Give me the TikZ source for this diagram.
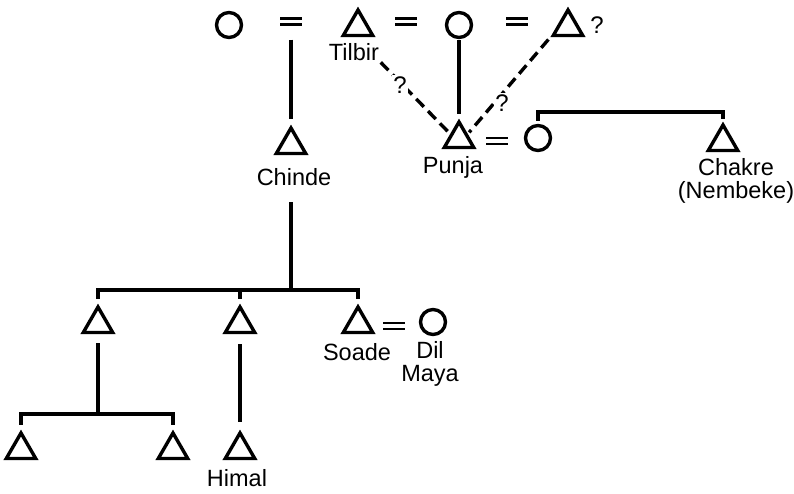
\documentclass[tikz,border=0pt]{standalone}
\usepackage{fontspec}
\setmainfont{Liberation Sans}
\usetikzlibrary{shapes.geometric}
\begin{document}
\begin{tikzpicture}[x=1pt,y=-1pt,
  line width=3.4pt,
  tri/.style={draw, regular polygon, regular polygon sides=3, minimum size=34pt, inner sep=0pt},
  fem/.style={draw, circle, minimum size=25pt, inner sep=0pt},
  marr/.style={minimum width=22pt, minimum height=6pt, inner sep=0pt, outer sep=0pt},
  lbl/.style={font=\fontsize{23.5}{23}\selectfont, inner sep=0pt, align=center},
  qm/.style={font=\fontsize{24}{24}\selectfont, inner sep=1.5pt, fill=white},
  maybe/.style={dash pattern=on 11pt off 6pt}
]
\useasboundingbox (0,0) rectangle (794,493);

% top generation: a woman with three successive husbands
\node[fem]  (c1) at (229,25) {};
\node[marr] (e1) at (291,21.5) {};
\node[tri]  (t1) at (358,27) {};
\node[marr] (e2) at (406,21.5) {};
\node[fem]  (c2) at (459,25) {};
\node[marr] (e3) at (517,21.5) {};
\node[tri]  (t2) at (568,27) {};
\node[qm, fill=none] (q0) at (597,25) {?};
\node[lbl]  (tilbirL) at (354,52) {Tilbir};

% second generation
\node[tri]  (tCh) at (291,145) {};
\node[lbl]  (chindeL) at (294,177) {Chinde};
\node[tri]  (tP) at (459,139) {};
\node[lbl]  (punjaL) at (453,167) {Punja};
\node[marr] (e4) at (497,141) {};
\node[fem]  (cW) at (538,138) {};
\node[tri]  (tC) at (723,142) {};
\node[lbl]  (chakreL) at (736,181) {Chakre\\(Nembeke)};
\coordinate (k) at (630,112);

% Chinde's sons
\coordinate (j1) at (291,290);
\node[tri]  (tA) at (98,324) {};
\node[tri]  (tB) at (240,324) {};
\node[tri]  (tS) at (358,324) {};
\node[lbl]  (soadeL) at (357,352) {Soade};
\node[marr] (e5) at (394,326) {};
\node[fem]  (cD) at (433,322) {};
\node[lbl]  (dilL) at (430,364) {Dil\\Maya};

% grandsons
\coordinate (j2) at (98,414);
\node[tri]  (tG1) at (21,450) {};
\node[tri]  (tG2) at (173,450) {};
\node[tri]  (tH) at (240,450) {};
\node[lbl]  (himalL) at (237,478) {Himal};

% marriage signs
\foreach \m in {e1,e2,e3,e4,e5}
  \draw[line width=2.8pt] (\m.north west) -- (\m.north east)
                          (\m.south west) -- (\m.south east);

% descent lines
\draw[shorten <=15pt, shorten >=6pt] (e1.south) -- (tCh.corner 1);
\draw[shorten <=1pt, shorten >=5pt] (c2.south) -- (tP.corner 1);
\draw[shorten <=3pt, shorten >=3pt] (cW.north) -- (cW.north |- k) -| (tC.corner 1);
\draw[shorten <=15pt] (chindeL.south -| j1) -- (j1);
\draw[shorten <=5pt, shorten >=5pt] (tA.corner 1) |- (j1) -| (tS.corner 1);
\draw[shorten >=5pt] (j1 -| tB.corner 1) -- (tB.corner 1);
\draw[shorten <=9pt] (tA.side 2) -- (j2);
\draw[shorten <=5pt, shorten >=5pt] (tG1.corner 1) |- (j2) -| (tG2.corner 1);
\draw[shorten <=10pt, shorten >=8pt] (tB.side 2) -- (tH.corner 1);

% uncertain paternity
\draw[maybe, shorten >=3pt] (tilbirL.south east) -- (tP.side 1);
\draw[maybe, shorten <=3pt, shorten >=2pt] (t2.corner 2) -- (tP.side 3);
\node[qm] (q1) at (400,85) {?};
\node[qm] (q2) at (502,103) {?};
\end{tikzpicture}
\end{document}
